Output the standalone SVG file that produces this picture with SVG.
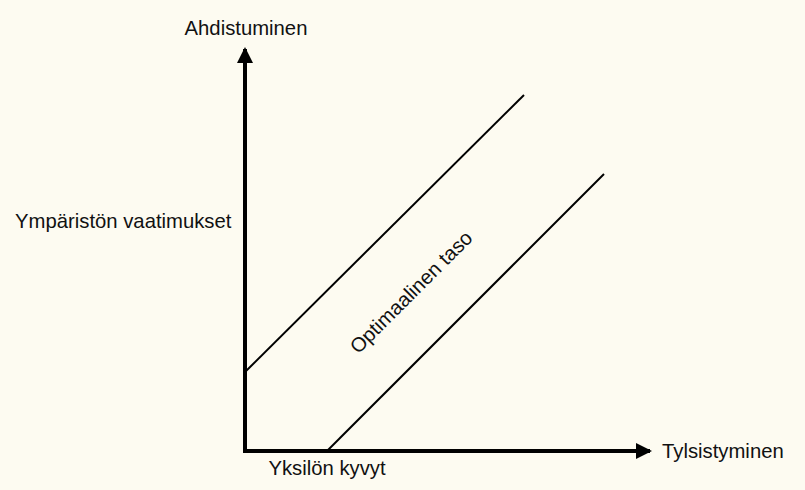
<svg xmlns="http://www.w3.org/2000/svg" width="805" height="490" viewBox="0 0 805 490">
<style>
text{font-family:"Liberation Sans",Arial,sans-serif;font-size:20.3px;fill:#111}
.axis{stroke:#000;stroke-width:4;fill:none}
.diag{stroke:#000;stroke-width:2;fill:none}
</style>
<defs>
<marker id="ah" markerUnits="userSpaceOnUse" markerWidth="16" markerHeight="16" viewBox="0 0 16 16" refX="14" refY="8" orient="auto">
<path d="M0,0 L16,8 L0,16 Z" fill="#000"/>
</marker>
</defs>
<rect width="805" height="490" fill="#fdfbf1"/>
<g id="connectors">
<path class="axis" d="M245,453 L245,49" marker-end="url(#ah)"/>
<path class="axis" d="M243,451 L650,451" marker-end="url(#ah)"/>
<path class="diag" d="M245,372 L524,95"/>
<path class="diag" d="M327,451 L604,174"/>
</g>
<g id="ahdistuminen"><text x="246" y="35" text-anchor="middle">Ahdistuminen</text></g>
<g id="ymparisto"><text x="15" y="228">Ympäristön vaatimukset</text></g>
<g id="tylsistyminen"><text x="662" y="458">Tylsistyminen</text></g>
<g id="yksilon"><text x="327" y="475" text-anchor="middle">Yksilön kyvyt</text></g>
<g id="optimaalinen"><text transform="translate(416,297) rotate(-45)" text-anchor="middle">Optimaalinen taso</text></g>
</svg>
